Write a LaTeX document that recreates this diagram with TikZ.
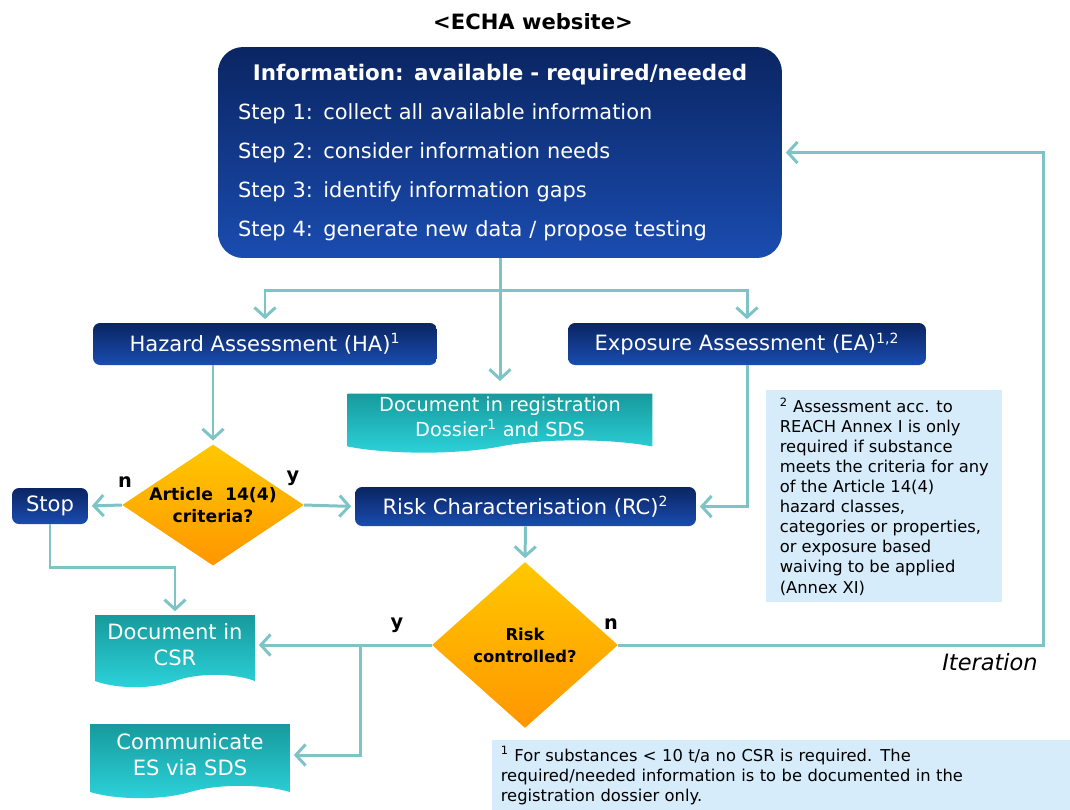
\documentclass[tikz,border=0pt]{standalone}
\usepackage{fontspec}
\setmainfont{DejaVu Sans}
\usetikzlibrary{shapes.geometric,shapes.symbols,arrows.meta}
\definecolor{navytop}{HTML}{0A2562}
\definecolor{navybot}{HTML}{1A4CB0}
\definecolor{linecol}{HTML}{7EC4C7}
\definecolor{ortop}{HTML}{FFC800}
\definecolor{orbot}{HTML}{FF9600}
\definecolor{doctop}{HTML}{179A9C}
\definecolor{docbot}{HTML}{2CD3DB}
\definecolor{notefill}{HTML}{D6ECFB}
\begin{document}
\begin{tikzpicture}[x=0.02cm, y=-0.02cm,
		bluebox/.style={rectangle, rounded corners=4pt, top color=navytop, bottom color=navybot,
			text=white, inner sep=0pt, font=\fontsize{12}{14}\selectfont},
		infobox/.style={bluebox, rounded corners=0.5cm, text width=10.48cm, inner xsep=0.4cm,
			align=left, minimum height=4.22cm, font=\fontsize{11.9}{22.2}\selectfont},
		docbox/.style={tape, tape bend top=none, tape bend bottom=in and out, tape bend height=7pt,
			top color=doctop, bottom color=docbot, text=white, align=center, inner sep=0pt,
			font=\fontsize{11}{14.5}\selectfont},
		decision/.style={diamond, aspect=1.5, top color=ortop, bottom color=orbot, inner sep=0pt,
			align=center, font=\bfseries\fontsize{9.8}{13}\selectfont},
		notebox/.style={rectangle, fill=notefill, anchor=north west, align=left, inner xsep=0.17cm,
			font=\fontsize{9.3}{11.4}\selectfont},
		lbl/.style={font=\bfseries\fontsize{11}{13}\selectfont},
		arr/.style={draw=linecol, line width=1.7pt, shorten >=2pt,
			-{Straight Barb[length=5.5pt,width=12pt]}}]
		
		\useasboundingbox (0,0) rectangle (1070,809);
		
		\node[font=\bfseries\fontsize{12}{14}\selectfont] (title) at (533,22) {<ECHA website>};
		
		% top box
		\node[infobox] (info) at (500,152.5) {\makebox[10.48cm][c]{\bfseries\fontsize{12.2}{22.2}\selectfont Information: available - required/needed}\\
			Step 1: collect all available information\\
			Step 2: consider information needs\\
			Step 3: identify information gaps\\
			Step 4: generate new data / propose testing};
		
		\node[bluebox, minimum width=6.88cm, minimum height=0.84cm] (ha) at (265,344) {Hazard Assessment (HA)\textsuperscript{1}};
		\node[bluebox, minimum width=7.16cm, minimum height=0.84cm] (ea) at (747,344) {Exposure Assessment (EA)\textsuperscript{1,2}};
		\node[docbox, minimum width=6.1cm, minimum height=1.18cm] (docreg) at (500,417) {Document in registration\\ Dossier\textsuperscript{1} and SDS};
		
		\node[decision, minimum width=3.52cm, minimum height=2.32cm] (art) at (213,505) {Article\ \ 14(4)\\ criteria?};
		\node[bluebox, minimum width=1.52cm, minimum height=0.72cm] (stop) at (50,506) {Stop};
		\node[bluebox, minimum width=6.82cm, minimum height=0.78cm] (rc) at (525.5,506.5) {Risk Characterisation (RC)\textsuperscript{2}};
		
		\node[decision, minimum width=3.72cm, minimum height=3.32cm, font=\bfseries\fontsize{9.3}{12.5}\selectfont] (risk) at (525,645) {Risk\\ controlled?};
		\node[docbox, minimum width=3.2cm, minimum height=1.44cm, font=\fontsize{12}{14.8}\selectfont] (csr) at (175,645) {Document in\\ CSR};
		\node[docbox, minimum width=4.0cm, minimum height=1.48cm, font=\fontsize{12}{14.8}\selectfont] (comm) at (190,755) {Communicate\\ ES via SDS};
		
		% footnotes
		\node[notebox, minimum width=4.72cm, minimum height=4.24cm] (note2) at (766,390) {\textsuperscript{2} Assessment acc. to\\
			REACH Annex I is only\\
			required if substance\\
			meets the criteria for any\\
			of the Article 14(4)\\
			hazard classes,\\
			categories or properties,\\
			or exposure based\\
			waiving to be applied\\
			(Annex XI)};
		\node[notebox, text width=11.22cm, minimum height=1.38cm] (note1) at (492,740) {\textsuperscript{1} For substances < 10 t/a no CSR is required. The\\
			required/needed information is to be documented in the\\
			registration dossier only.};
		
		\node[lbl] (n1) at (125,482) {n};
		\node[lbl] (y1) at (293,478) {y};
		\node[lbl] (y2) at (397,625) {y};
		\node[lbl] (n2) at (611,624) {n};
		\node[font=\itshape\fontsize{12.8}{15}\selectfont] (iterlbl) at (990,662) {Iteration};
		
		% connectors
		\coordinate (split) at (500,290);
		\coordinate (br) at (360,645);
		\coordinate (iter) at (1043,645);
		\draw[arr, shorten >=7pt] (info.south) -- (docreg.north);
		\draw[arr] (split) -| (ha.north);
		\draw[arr] (split) -| (ea.north);
		\draw[arr] (ha.south -| art.north) -- (art.north);
		\draw[arr] (art.west) -- (stop.east);
		\draw[arr] (art.east) -- (rc.west);
		\draw[arr] (ea.south) |- (rc.east);
		\draw[arr] (rc.south) -- (risk.north);
		\draw[arr] (risk.west) -- (csr.east);
		\draw[arr] (br) |- (comm.east);
		\draw[arr] (stop.south) -- ++(0,43) -| (csr.north);
		\draw[arr] (risk.east) -- (iter) |- (info.east);
\end{tikzpicture}
\end{document}
